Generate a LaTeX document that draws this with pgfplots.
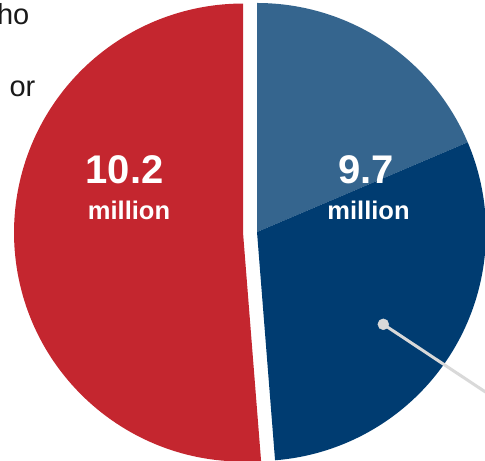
\documentclass[border=0pt]{standalone}
\usepackage{fontspec}
\setmainfont{Liberation Sans}
\usepackage{pgfplots}
\usepackage{pgfplotstable}
\pgfplotsset{compat=1.18}
\definecolor{pieRed}{RGB}{196,38,47}
\definecolor{pieLight}{RGB}{53,101,142}
\definecolor{pieDark}{RGB}{0,60,113}
\definecolor{leader}{RGB}{217,217,217}
\definecolor{txt}{RGB}{25,25,25}

\pgfplotstableread{
slice value
light 3.7
dark 6.0
red 10.2
}\piedata
\pgfplotstablegetelem{0}{value}\of\piedata \let\vA\pgfplotsretval
\pgfplotstablegetelem{1}{value}\of\piedata \let\vB\pgfplotsretval
\pgfplotstablegetelem{2}{value}\of\piedata \let\vC\pgfplotsretval
\pgfmathsetmacro\tot{\vA+\vB+\vC}
\pgfmathsetmacro\aA{90-360*\vA/\tot}
\pgfmathsetmacro\aB{\aA-360*\vB/\tot}
\pgfmathsetmacro\aC{\aB-360*\vC/\tot}
\pgfmathsetmacro\bis{(\aB+\aC)/2}
\pgfmathsetmacro\rcx{257+14*cos(\bis)}
\pgfmathsetmacro\rcy{229+14*sin(\bis)}

\begin{document}%
\begin{tikzpicture}
\begin{axis}[x=1bp,y=1bp,xmin=0,xmax=485,ymin=0,ymax=461,hide axis,clip=true]
\coordinate (bl) at (axis cs:0,0);
\coordinate (tr) at (axis cs:485,461);
\fill[pieLight] (axis cs:257,229) -- ++(90:229bp) arc[start angle=90,end angle=\aA,radius=229bp] -- cycle;
\fill[pieDark] (axis cs:257,229) -- ++(\aA:229bp) arc[start angle=\aA,end angle=\aB,radius=229bp] -- cycle;
\fill[pieRed] (axis cs:\rcx,\rcy) -- ++(\aB:229bp) arc[start angle=\aB,end angle=\aC,radius=229bp] -- cycle;
\addplot[leader, line width=3bp, no marks] coordinates {(383.3,136.7) (520,46.1)};
\addplot[only marks, mark=*, mark size=5.5bp, mark options={fill=leader,draw=leader}] coordinates {(383.3,136.7)};
\node[anchor=base, inner sep=0pt, text=white, font=\fontsize{40bp}{40bp}\selectfont\bfseries] at (axis cs:124.5,277.7) {10.2};
\node[anchor=base, inner sep=0pt, text=white, font=\fontsize{25.5bp}{25.5bp}\selectfont\bfseries] at (axis cs:129,241) {million};
\node[anchor=base, inner sep=0pt, text=white, font=\fontsize{40bp}{40bp}\selectfont\bfseries] at (axis cs:366,277.7) {9.7};
\node[anchor=base, inner sep=0pt, text=white, font=\fontsize{25.5bp}{25.5bp}\selectfont\bfseries] at (axis cs:368.5,241) {million};
\node[anchor=base east, inner sep=0pt, text=txt, font=\fontsize{29bp}{29bp}\selectfont] at (axis cs:29.5,436.5) {ho};
\node[anchor=base east, inner sep=0pt, text=txt, font=\fontsize{29bp}{29bp}\selectfont] at (axis cs:35.5,364) {or};
\end{axis}
\pgfresetboundingbox
\useasboundingbox (bl) rectangle (tr);
\end{tikzpicture}%
\end{document}
